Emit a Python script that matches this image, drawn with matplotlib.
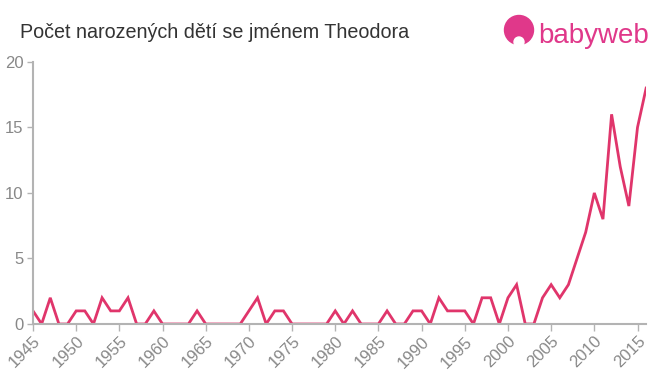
import numpy as np
import matplotlib
matplotlib.use("Agg")
import matplotlib.pyplot as plt
from matplotlib.patches import Circle

plt.rcParams['font.family'] = ['Liberation Sans', 'DejaVu Sans']

years = list(range(1945, 2017))
counts = [1, 0, 2, 0, 0, 1, 1, 0, 2, 1,
          1, 2, 0, 0, 1, 0, 0, 0, 0, 1,
          0, 0, 0, 0, 0, 1, 2, 0, 1, 1,
          0, 0, 0, 0, 0, 1, 0, 1, 0, 0,
          0, 1, 0, 0, 1, 1, 0, 2, 1, 1,
          1, 0, 2, 2, 0, 2, 3, 0, 0, 2,
          3, 2, 3, 5, 7, 10, 8, 16, 12, 9,
          15, 18]
xticks = list(range(1945, 2016, 5))
yticks = [0, 5, 10, 15, 20]

title = "Počet narozených dětí se jménem Theodora"
line_color = "#e0356b"
axis_color = "#b3b3b3"
text_color = "#888888"

fig = plt.figure(figsize=(6.6, 3.75), dpi=100)
ax = fig.add_axes([0.05, 0.136, 0.929, 0.699])

ax.plot(years, counts, color=line_color, linewidth=2, solid_joinstyle="miter")

ax.set_xlim(1945, 2016)
ax.set_ylim(0, 20)
ax.set_xticks(xticks)
ax.set_yticks(yticks)
ax.set_xticklabels([str(x) for x in xticks], rotation=45, ha="right",
                   rotation_mode="anchor", fontsize=12, color=text_color)
ax.set_yticklabels([str(y) for y in yticks], fontsize=12, color=text_color)

for s in ["top", "right"]:
    ax.spines[s].set_visible(False)
for s in ["left", "bottom"]:
    ax.spines[s].set_color(axis_color)
    ax.spines[s].set_linewidth(1.5)
ax.tick_params(axis="x", length=5, color=axis_color, width=1, pad=2)
ax.tick_params(axis="y", length=4, color=axis_color, width=1, pad=3)

fig.text(0.03, 0.913, title, fontsize=14.2, color="#333333", ha="left", va="center")

# logo
logo_color = "#e0388a"
fig.patches.append(Circle((5.19, 3.45), 0.145, transform=fig.dpi_scale_trans,
                          color=logo_color))
fig.patches.append(Circle((5.19, 3.33), 0.05, transform=fig.dpi_scale_trans,
                          color="white"))
fig.text(0.815, 0.905, "babyweb", fontsize=20, color=logo_color,
         ha="left", va="center")

fig.savefig("out.png", dpi=100)
